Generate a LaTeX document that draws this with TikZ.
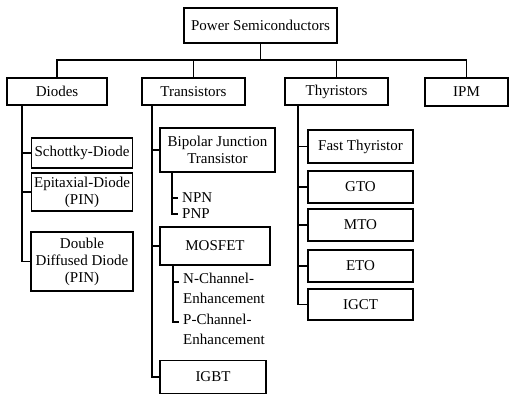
\documentclass[tikz,border=0pt]{standalone}
\usepackage{fontspec}
\setmainfont{Liberation Serif}
\begin{document}
\begin{tikzpicture}[x=1pt,y=-1pt,
  box/.style={draw,line width=1.1pt,inner sep=0pt,align=center,font=\fontsize{15}{17}\selectfont},
  lbl/.style={inner sep=0pt,anchor=west,align=left,font=\fontsize{15}{20}\selectfont},
  conn/.style={line width=1.1pt}]
\useasboundingbox (0,0) rectangle (509,395);
% top
\node[box,minimum width=153pt,minimum height=35pt] (top) at (260.5,25.5) {Power Semiconductors};
% level 1
\node[box,minimum width=100pt,minimum height=27pt] (dio) at (57,91.5) {Diodes};
\node[box,minimum width=103pt,minimum height=27pt] (tra) at (193.5,91.5) {Transistors};
\node[box,minimum width=103pt,minimum height=27pt] (thy) at (336.5,91.5) {Thyristors};
\node[box,minimum width=83pt,minimum height=28pt] (ipm) at (466.5,92) {IPM};
\coordinate (bus) at (0,60);
\draw[conn] (dio.north) -- (dio.north |- bus) -- (ipm.north |- bus) -- (ipm.north);
\draw[conn] (top.south) -- (top.south |- bus);
\draw[conn] (tra.north) -- (tra.north |- bus);
\draw[conn] (thy.north) -- (thy.north |- bus);
% diodes
\node[box,minimum width=101pt,minimum height=30pt] (sch) at (82,153) {Schottky-Diode};
\node[box,minimum width=101pt,minimum height=38pt] (epi) at (82,192) {Epitaxial-Diode\\(PIN)};
\node[box,minimum width=102pt,minimum height=59pt] (ddd) at (82,261.5) {Double\\Diffused Diode\\(PIN)};
\coordinate (d0) at (22,105);
\draw[conn] (d0) |- (ddd.west);
\draw[conn] (d0 |- sch.west) -- (sch.west);
\draw[conn] (d0 |- epi.west) -- (epi.west);
% transistors
\node[box,minimum width=115pt,minimum height=44pt] (bjt) at (217.5,150) {Bipolar Junction\\Transistor};
\node[box,minimum width=110pt,minimum height=38pt] (mos) at (215,246) {MOSFET};
\node[box,minimum width=106pt,minimum height=33pt] (igbt) at (213,377) {IGBT};
\coordinate (t0) at (152,105);
\draw[conn] (t0) |- (igbt.west);
\draw[conn] (t0 |- bjt.west) -- (bjt.west);
\draw[conn] (t0 |- mos.west) -- (mos.west);
\node[lbl] (npn) at (182,198) {NPN};
\node[lbl] (pnp) at (182,214) {PNP};
\coordinate (b0) at (172,172);
\coordinate (bn) at (178,198);
\coordinate (bp) at (178,214);
\draw[conn] (b0) |- (bp);
\draw[conn] (b0 |- bn) -- (bn);
\node[lbl,anchor=north west] (nch) at (183,273) {N-Channel-\\Enhancement};
\node[lbl,anchor=north west] (pch) at (183,314) {P-Channel-\\Enhancement};
\coordinate (m0) at (173,265);
\coordinate (nt) at (179,282);
\coordinate (pt) at (179,322);
\draw[conn] (m0) |- (pt);
\draw[conn] (m0 |- nt) -- (nt);
% thyristors
\node[box,minimum width=105pt,minimum height=33pt] (fast) at (360.5,146.5) {Fast Thyristor};
\node[box,minimum width=105pt,minimum height=32pt] (gto) at (360.5,187) {GTO};
\node[box,minimum width=105pt,minimum height=32pt] (mto) at (360.5,225) {MTO};
\node[box,minimum width=105pt,minimum height=32pt] (eto) at (360.5,266) {ETO};
\node[box,minimum width=105pt,minimum height=31pt] (igct) at (360.5,304.5) {IGCT};
\coordinate (h0) at (298,105);
\draw[conn] (h0) |- (igct.west);
\foreach \n in {fast,gto,mto,eto} \draw[conn] (h0 |- \n.west) -- (\n.west);
\end{tikzpicture}
\end{document}
